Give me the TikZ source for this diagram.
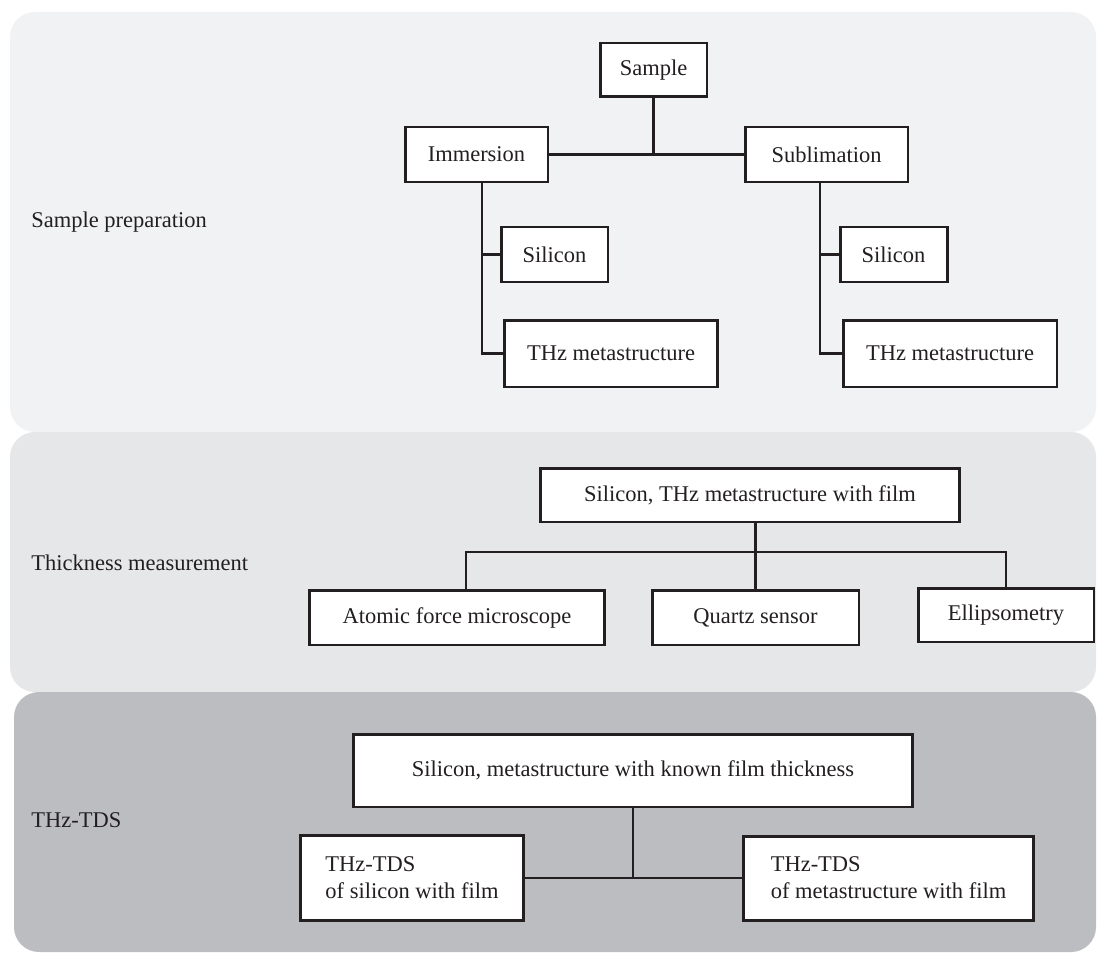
\documentclass[tikz,border=0pt]{standalone}
\usepackage{fontspec}
\setmainfont{Liberation Serif}
\definecolor{ink}{HTML}{231F20}
\definecolor{prepbg}{HTML}{F1F2F4}
\definecolor{measbg}{HTML}{E6E7E9}
\definecolor{tdsbg}{HTML}{BCBDC0}
\begin{document}
\begin{tikzpicture}[
    x=0.02cm, y=-0.02cm,
    every node/.style={font=\fontsize{12.8}{15.5}\selectfont, text=ink},
    stage/.style={anchor=west, inner sep=0pt},
    panel/.style={rounded corners=0.5cm},
    box/.style={
        draw=ink,
        line width=1.7pt,
        fill=white,
        align=center,
        inner sep=2pt,
        minimum height=1.1cm
    },
    link/.style={draw=ink, line width=1.5pt}
]
    \useasboundingbox (0,0) rectangle (1097,956);

    % Panels
    \fill[panel, prepbg] (10,12) rectangle (1096,432);
    \fill[panel, measbg] (10,432) rectangle (1096,692);
    \fill[panel, tdsbg] (14,692) rectangle (1096,952);

    \node[stage] (lprep) at (31,222) {Sample preparation};
    \node[stage] (lmeas) at (31,563) {Thickness measurement};
    \node[stage] (ltds) at (31,820) {THz-TDS};

    % Sample preparation
    \node[box, minimum width=2.14cm, minimum height=1.08cm] (smp) at (653.5,70) {Sample};
    \node[box, minimum width=2.86cm] (imm) at (476.5,154.5) {Immersion};
    \node[box, minimum width=3.26cm] (sub) at (826.5,154.5) {Sublimation};
    \node[box, minimum width=2.14cm] (si1) at (554.5,254.5) {Silicon};
    \node[box, minimum width=4.28cm, minimum height=1.34cm] (thz1) at (611,353.5) {THz metastructure};
    \node[box, minimum width=2.14cm] (si2) at (893.5,254.5) {Silicon};
    \node[box, minimum width=4.28cm, minimum height=1.34cm] (thz2) at (950,353.5) {THz metastructure};

    \draw[link] (imm.east) -- (sub.west);
    \draw[link] (smp.south) -- (smp.south |- imm.east);
    \draw[link] ([xshift=0.11cm]imm.south) |- (thz1.west);
    \draw[link] ([xshift=0.11cm]imm.south |- si1.west) -- (si1.west);
    \draw[link] ([xshift=-0.13cm]sub.south) |- (thz2.west);
    \draw[link] ([xshift=-0.13cm]sub.south |- si2.west) -- (si2.west);

    % Thickness measurement
    \node[box, minimum width=8.4cm, minimum height=1.08cm] (film) at (750,495) {Silicon, THz metastructure with film};
    \node[box, minimum width=5.92cm] (afm) at (457,617.5) {Atomic force microscope};
    \node[box, minimum width=4.14cm] (qs) at (755.5,617.5) {Quartz sensor};
    \node[box, minimum width=3.52cm, minimum height=1.08cm] (ell) at (1006,615) {Ellipsometry};
    \coordinate (tbar) at (0,552);

    \draw[link] (qs.north) -- (qs.north |- film.south);
    \draw[link] ([xshift=0.18cm]afm.north) -- ([xshift=0.18cm]afm.north |- tbar) -- (ell.north |- tbar) -- (ell.north);

    % THz-TDS
    \node[box, minimum width=11.2cm, minimum height=1.46cm] (known) at (633,770.5) {Silicon, metastructure with known film thickness};
    \node[box, align=left, minimum width=4.48cm, minimum height=1.7cm] (tds1) at (412,878) {THz-TDS\\of silicon with film};
    \node[box, align=left, minimum width=5.82cm, minimum height=1.68cm] (tds2) at (888.5,878) {THz-TDS\\of metastructure with film};

    \draw[link] (tds1.east) -- (tds2.west);
    \draw[link] (known.south) -- (known.south |- tds1.east);

\end{tikzpicture}
\end{document}
